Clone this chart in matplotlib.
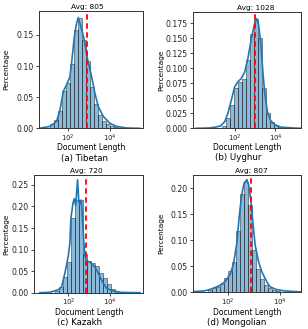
import numpy as np
import matplotlib
matplotlib.use("Agg")
import matplotlib.pyplot as plt
from matplotlib.ticker import FormatStrFormatter, NullLocator, FixedLocator, LogFormatterSciNotation

# ---------------- data ----------------
names = ["(a) Tibetan", "(b) Uyghur", "(c) Kazakh", "(d) Mongolian"]
avgs = [805, 1028, 720, 807]

# histogram bins: first edge (log10) and bin width (log10)
a_start, a_width = 1.12, 0.192
a_heights = [0.007, 0.013, 0.028, 0.060, 0.073, 0.104, 0.158, 0.177, 0.142,
             0.108, 0.066, 0.039, 0.021, 0.012, 0.007, 0.004, 0.002]
b_start, b_width = 1.36, 0.198
b_heights = [0.004, 0.017, 0.039, 0.068, 0.078, 0.082, 0.114, 0.157, 0.183,
             0.151, 0.068, 0.026, 0.011, 0.005, 0.002]
c_start, c_width = 1.35, 0.192
c_heights = [0.004, 0.014, 0.037, 0.072, 0.174, 0.215, 0.215, 0.090, 0.074,
             0.069, 0.062, 0.046, 0.035, 0.020, 0.008, 0.003]
d_start, d_width = 1.22, 0.155
d_heights = [0.004, 0.007, 0.010, 0.016, 0.027, 0.040, 0.057, 0.117, 0.190,
             0.213, 0.168, 0.082, 0.045, 0.025, 0.013, 0.007, 0.004, 0.002]

# KDE curves (x as log10 of document length)
a_kde_x = [0.6, 1.12, 1.44, 1.60, 1.76, 1.92, 2.08, 2.16, 2.29, 2.40, 2.48, 2.61,
           2.77, 2.93, 3.12, 3.28, 3.44, 3.68, 4.0, 4.32, 4.8, 5.44]
a_kde_y = [0.0, 0.003, 0.011, 0.029, 0.059, 0.070, 0.083, 0.105, 0.147, 0.169,
           0.178, 0.163, 0.142, 0.110, 0.083, 0.056, 0.035, 0.019, 0.008, 0.003,
           0.0005, 0.0]
b_kde_x = [0.06, 0.7, 1.05, 1.29, 1.49, 1.65, 1.82, 1.98, 2.15, 2.31, 2.48, 2.64,
           2.81, 2.97, 3.07, 3.17, 3.27, 3.37, 3.47, 3.6, 3.76, 3.96, 4.26, 4.91, 5.26]
b_kde_y = [0.0, 0.0005, 0.002, 0.004, 0.011, 0.025, 0.047, 0.069, 0.078, 0.083,
           0.094, 0.117, 0.150, 0.175, 0.183, 0.172, 0.142, 0.097, 0.058, 0.028,
           0.013, 0.006, 0.002, 0.0005, 0.0]
c_kde_x = [0.63, 1.11, 1.40, 1.59, 1.67, 1.83, 1.99, 2.07, 2.12, 2.22, 2.28, 2.35,
           2.44, 2.50, 2.55, 2.62, 2.70, 2.75, 2.80, 2.88, 3.03, 3.19, 3.36, 3.51,
           3.67, 3.84, 4.08, 4.48, 4.96, 5.44]
c_kde_y = [0.0, 0.001, 0.005, 0.009, 0.014, 0.045, 0.084, 0.115, 0.173, 0.208,
           0.218, 0.202, 0.262, 0.211, 0.206, 0.215, 0.150, 0.110, 0.084, 0.074,
           0.071, 0.064, 0.053, 0.037, 0.022, 0.010, 0.005, 0.001, 0.0003, 0.0]
d_kde_x = [0.64, 1.07, 1.30, 1.56, 1.69, 1.88, 2.08, 2.21, 2.34, 2.44, 2.53, 2.62,
           2.73, 2.80, 2.88, 2.96, 3.05, 3.18, 3.31, 3.50, 3.63, 3.86, 4.21, 4.83]
d_kde_y = [0.0008, 0.002, 0.005, 0.010, 0.013, 0.020, 0.034, 0.054, 0.094, 0.149,
           0.188, 0.210, 0.217, 0.207, 0.178, 0.136, 0.091, 0.059, 0.039, 0.020,
           0.010, 0.005, 0.002, 0.0003]

# axis ranges (log10 for x)
xlims = [(0.61, 5.6), (-0.06, 5.26), (0.36, 5.6), (0.64, 4.83)]
ylims = [0.188, 0.194, 0.273, 0.226]
yticks = [[0.0, 0.05, 0.10, 0.15],
          [0.0, 0.025, 0.05, 0.075, 0.10, 0.125, 0.15, 0.175],
          [0.0, 0.05, 0.10, 0.15, 0.20, 0.25],
          [0.0, 0.05, 0.10, 0.15, 0.20]]
yfmts = ["%.2f", "%.3f", "%.2f", "%.2f"]
xtick_vals = [1e2, 1e4]

starts = [a_start, b_start, c_start, d_start]
widths = [a_width, b_width, c_width, d_width]
heights = [a_heights, b_heights, c_heights, d_heights]
kxs = [a_kde_x, b_kde_x, c_kde_x, d_kde_x]
kys = [a_kde_y, b_kde_y, c_kde_y, d_kde_y]

# ---------------- layout ----------------
W, H = 308, 329
fig = plt.figure(figsize=(W / 100, H / 100), dpi=100)
fig.patch.set_facecolor("white")

# (left, right, top, bottom) in pixels
boxes = [(39.3, 143.3, 11.3, 128.3), (193.3, 301, 12, 128.3),
         (34.3, 143.3, 175, 292.7), (193, 301, 175, 292)]
xlabel_y = [148.0, 148.0, 312.5, 312.5]
ylabel_x = [6.7, 161.3, 6.0, 161.3]
caption_xy = [(84.5, 158.0), (238.5, 158.0), (80, 322.8), (237, 322.8)]

blue = "#1f77b4"
for i in range(4):
    l, r, t, b = boxes[i]
    ax = fig.add_axes([l / W, 1 - b / H, (r - l) / W, (b - t) / H])
    edges = starts[i] + widths[i] * np.arange(len(heights[i]) + 1)
    left = 10 ** edges[:-1]
    wid = 10 ** edges[1:] - 10 ** edges[:-1]
    ax.bar(left, heights[i], width=wid, align="edge", color=blue, alpha=0.5,
           edgecolor="black", linewidth=0.6)
    ax.plot(10 ** np.array(kxs[i]), kys[i], color=blue, lw=1.2)
    ax.axvline(avgs[i], color="red", ls=(0, (3, 2)), lw=1.3)
    ax.set_xscale("log")
    ax.set_xlim(10 ** xlims[i][0], 10 ** xlims[i][1])
    ax.set_ylim(0, ylims[i])
    ax.xaxis.set_major_locator(FixedLocator(xtick_vals))
    ax.xaxis.set_major_formatter(LogFormatterSciNotation())
    ax.xaxis.set_minor_locator(NullLocator())
    ax.set_yticks(yticks[i])
    ax.yaxis.set_major_formatter(FormatStrFormatter(yfmts[i]))
    ax.tick_params(labelsize=5.6, length=2.5, width=0.6, pad=1.5, colors="#222222")
    ax.tick_params(axis="x", labelsize=5.0, pad=0.6)
    for s in ax.spines.values():
        s.set_linewidth(0.7)
        s.set_color("#333333")
    ax.set_ylabel("Percentage", fontsize=5.3)
    ax.yaxis.set_label_coords((ylabel_x[i] + 3.0 - l) / (r - l), 0.5)
    ax.text(avgs[i], 1.012, f"Avg: {avgs[i]}", transform=ax.get_xaxis_transform(),
            ha="center", va="bottom", fontsize=5.3)
    fig.text((l + r) / 2 / W, 1 - xlabel_y[i] / H, "Document Length",
             ha="center", va="center", fontsize=5.5)
    cx, cy = caption_xy[i]
    fig.text(cx / W, 1 - cy / H, names[i], ha="center", va="center", fontsize=6.2)

fig.savefig("out.png", dpi=100, facecolor="white")
